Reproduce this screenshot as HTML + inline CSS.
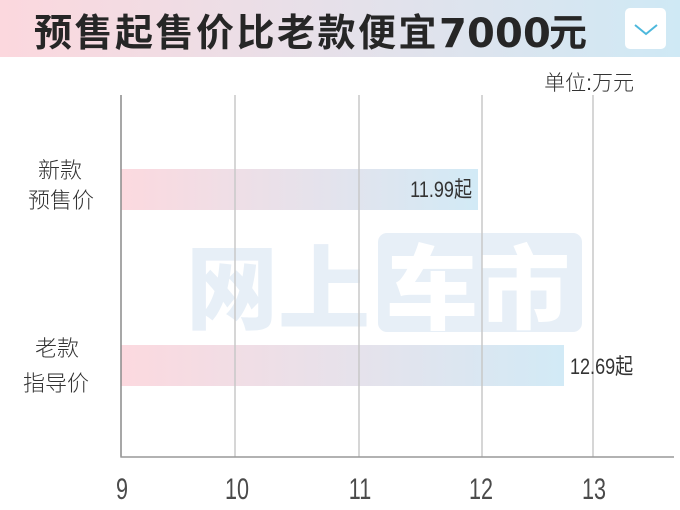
<!DOCTYPE html>
<html><head><meta charset="utf-8"><style>
html,body{margin:0;padding:0;background:#fff;}
svg{display:block;}
</style></head><body>
<svg width="680" height="510" viewBox="0 0 680 510" xmlns="http://www.w3.org/2000/svg">
<defs>
<linearGradient id="hg" x1="0" y1="0" x2="1" y2="0">
<stop offset="0" stop-color="#fcd8de"/>
<stop offset="1" stop-color="#cfe9f5"/>
</linearGradient>
<linearGradient id="bg" x1="0" y1="0" x2="1" y2="0">
<stop offset="0" stop-color="#fcd9df"/>
<stop offset="1" stop-color="#d2eaf6"/>
</linearGradient>
</defs>
<rect x="0" y="0" width="680" height="57" fill="url(#hg)"/>
<text y="46" font-family="'Liberation Sans','Noto Sans CJK SC',sans-serif" font-weight="bold" font-size="38" fill="#262626"><tspan x="34">预</tspan><tspan x="74.5">售</tspan><tspan x="115">起</tspan><tspan x="155.5">售</tspan><tspan x="196">价</tspan><tspan x="236.5">比</tspan><tspan x="277">老</tspan><tspan x="317.5">款</tspan><tspan x="358">便</tspan><tspan x="398.5">宜</tspan></text>
<text y="47" font-family="'DejaVu Sans',sans-serif" font-weight="bold" font-size="40" fill="#262626"><tspan x="439">7</tspan><tspan x="467">0</tspan><tspan x="495">0</tspan><tspan x="523">0</tspan></text>
<text x="549" y="46" font-family="'Liberation Sans','Noto Sans CJK SC',sans-serif" font-weight="bold" font-size="38" fill="#262626">元</text>
<rect x="625" y="8" width="41" height="41" rx="5" fill="#ffffff"/>
<polyline points="635,25 646,34 657,25" fill="none" stroke="#4db8dc" stroke-width="2"/>
<text x="634" y="90" text-anchor="end" font-family="'Liberation Sans','Noto Sans CJK SC',sans-serif" font-size="21" font-weight="300" fill="#333">单位:万元</text>
<!-- watermark -->
<g font-family="'Noto Sans CJK SC','WenQuanYi Zen Hei',sans-serif" font-weight="900" font-size="92">
<text x="186" y="322" fill="#e7eff7">网上</text>
<rect x="378" y="233" width="204" height="99" rx="9" fill="#e7eff7"/>
<text x="386" y="322" fill="#ffffff">车市</text>
</g>
<!-- bars -->
<rect x="121" y="169" width="357" height="41" fill="url(#bg)"/>
<rect x="121" y="345" width="443" height="41" fill="url(#bg)"/>
<!-- gridlines -->
<g stroke="#c8c8c8" stroke-width="1.5">
<line x1="235" y1="95" x2="235" y2="457"/>
<line x1="359" y1="95" x2="359" y2="457"/>
<line x1="482" y1="95" x2="482" y2="457"/>
<line x1="593" y1="95" x2="593" y2="457"/>
</g>
<line x1="121" y1="95" x2="121" y2="457.5" stroke="#8a8a8a" stroke-width="1.5"/>
<line x1="120.5" y1="457" x2="674" y2="457" stroke="#999" stroke-width="1.5"/>
<!-- category labels -->
<g font-family="'Liberation Sans','Noto Sans CJK SC',sans-serif" font-size="22" font-weight="300" fill="#333" text-anchor="middle">
<text x="60" y="178">新款</text>
<text x="61" y="208">预售价</text>
<text x="57" y="356">老款</text>
<text x="56" y="391">指导价</text>
</g>
<!-- value labels -->
<g font-family="'Liberation Sans','Noto Sans CJK SC',sans-serif" font-size="22" fill="#333">
<text transform="translate(472,197) scale(0.82,1)" text-anchor="end">11.99起</text>
<text transform="translate(570,374) scale(0.82,1)">12.69起</text>
</g>
<!-- tick labels -->
<g font-family="'Liberation Sans',sans-serif" font-size="30" fill="#4a4a4a" text-anchor="middle">
<text transform="translate(122,499) scale(0.72,1)">9</text>
<text transform="translate(237,499) scale(0.72,1)">10</text>
<text transform="translate(360,499) scale(0.72,1)">11</text>
<text transform="translate(481,499) scale(0.72,1)">12</text>
<text transform="translate(594,499) scale(0.72,1)">13</text>
</g>
</svg>
</body></html>
